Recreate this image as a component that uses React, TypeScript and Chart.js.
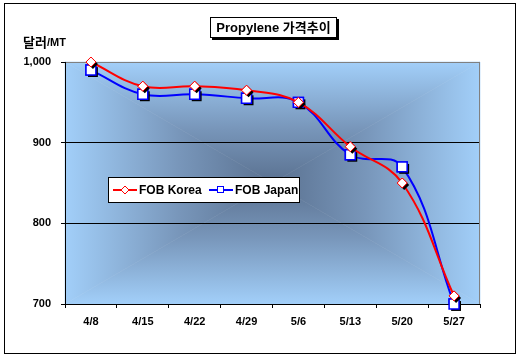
import React, { useEffect, useRef } from "react";
import { Chart, registerables } from "chart.js";

Chart.register(...registerables);

const categories = ["4/8", "4/15", "4/22", "4/29", "5/6", "5/13", "5/20", "5/27"];
const fobKorea = [1000, 970, 970, 965, 950, 895, 850, 710];
const fobJapan = [990, 960, 960, 955, 950, 885, 870, 700];
const seriesNames = ["FOB Korea", "FOB Japan"];
const chartTitle = "Propylene 가격추이";
const yUnitMain = "달러";
const yUnitSub = "/MT";
const yMin = 700;
const yMax = 1000;
const yStep = 100;

const LATIN = "Arial, 'Liberation Sans', 'Noto Sans CJK KR', sans-serif";
const KOREAN = "'Noto Sans CJK KR', Arial, sans-serif";

const decorPlugin = {
  id: "decor",
  beforeDraw(chart: any) {
    const ctx = chart.ctx;
    const { left, top, right, bottom } = chart.chartArea;
    ctx.save();
    ctx.fillStyle = "#ffffff";
    ctx.fillRect(0, 0, chart.width, chart.height);
    const cx = (left + right) / 2;
    const cy = (top + bottom) / 2;
    const tri = (pts: number[][], gx: number, gy: number) => {
      const g = ctx.createLinearGradient(cx, cy, gx, gy);
      g.addColorStop(0, "#5a7190");
      g.addColorStop(0.45, "#7896ba");
      g.addColorStop(1, "#a2cff9");
      ctx.fillStyle = g;
      ctx.beginPath();
      ctx.moveTo(pts[0][0], pts[0][1]);
      ctx.lineTo(pts[1][0], pts[1][1]);
      ctx.lineTo(cx, cy);
      ctx.closePath();
      ctx.fill();
      ctx.strokeStyle = g;
      ctx.lineWidth = 0.6;
      ctx.stroke();
    };
    tri([[left, top], [right, top]], cx, top);
    tri([[right, top], [right, bottom]], right, cy);
    tri([[right, bottom], [left, bottom]], cx, bottom);
    tri([[left, bottom], [left, top]], left, cy);
    ctx.restore();
  },
  afterDatasetDraw(chart: any, args: any) {
    const ctx = chart.ctx;
    const meta = args.meta;
    ctx.save();
    meta.data.forEach((pt: any) => {
      const o = pt.options;
      ctx.save();
      ctx.fillStyle = "#000000";
      ctx.beginPath();
      const x = pt.x + 2;
      const y = pt.y + 2;
      if (o.pointStyle === "rect") {
        const s = Math.SQRT1_2 * o.radius;
        ctx.rect(x - s, y - s, 2 * s, 2 * s);
      } else {
        const r = o.radius;
        ctx.moveTo(x, y - r);
        ctx.lineTo(x + r, y);
        ctx.lineTo(x, y + r);
        ctx.lineTo(x - r, y);
        ctx.closePath();
      }
      ctx.fill();
      ctx.restore();
      pt.draw(ctx, chart.chartArea);
    });
    ctx.restore();
  },
  afterDraw(chart: any) {
    const ctx = chart.ctx;
    const { top, right, bottom } = chart.chartArea;
    ctx.save();
    ctx.strokeStyle = "#808080";
    ctx.lineWidth = 1;
    ctx.beginPath();
    ctx.moveTo(Math.round(right) - 0.5, top);
    ctx.lineTo(Math.round(right) - 0.5, bottom);
    ctx.stroke();

    ctx.strokeStyle = "#000000";
    ctx.strokeRect(4.5, 3.5, 511, 350);

    const bx = 210, by = 17, bw = 127, bh = 21;
    ctx.fillStyle = "#000000";
    ctx.fillRect(bx + 2, by + 2, bw, bh);
    ctx.fillStyle = "#ffffff";
    ctx.fillRect(bx, by, bw, bh);
    ctx.strokeStyle = "#000000";
    ctx.strokeRect(bx + 0.5, by + 0.5, bw - 1, bh - 1);
    ctx.fillStyle = "#000000";
    ctx.textBaseline = "middle";
    ctx.textAlign = "center";
    ctx.font = `bold 13px ${LATIN}`;
    ctx.fillText(chartTitle, bx + bw / 2, by + bh / 2 + 1);

    ctx.textAlign = "left";
    ctx.font = `bold 13px ${KOREAN}`;
    ctx.fillText(yUnitMain, 23, 42);
    const w1 = ctx.measureText(yUnitMain).width;
    ctx.font = `bold 11px ${LATIN}`;
    ctx.fillText(yUnitSub, 23 + w1, 43);

    const lx = 108, ly = 177, lw = 192, lh = 26;
    ctx.fillStyle = "#ffffff";
    ctx.fillRect(lx, ly, lw, lh);
    ctx.strokeStyle = "#000000";
    ctx.strokeRect(lx + 0.5, ly + 0.5, lw - 1, lh - 1);
    const my = ly + lh / 2;
    ctx.strokeStyle = "#ff0000";
    ctx.lineWidth = 2;
    ctx.beginPath();
    ctx.moveTo(113, my);
    ctx.lineTo(137, my);
    ctx.stroke();
    ctx.fillStyle = "#ffffff";
    ctx.lineWidth = 1;
    ctx.beginPath();
    ctx.moveTo(125, my - 4);
    ctx.lineTo(129, my);
    ctx.lineTo(125, my + 4);
    ctx.lineTo(121, my);
    ctx.closePath();
    ctx.fill();
    ctx.stroke();
    ctx.fillStyle = "#000000";
    ctx.font = `bold 12px ${LATIN}`;
    ctx.fillText(seriesNames[0], 139, my + 1);
    ctx.strokeStyle = "#0000ff";
    ctx.lineWidth = 2;
    ctx.beginPath();
    ctx.moveTo(209, my);
    ctx.lineTo(233, my);
    ctx.stroke();
    ctx.fillStyle = "#ffffff";
    ctx.lineWidth = 1;
    ctx.fillRect(217, my - 3.5, 7, 7);
    ctx.strokeRect(217.5, my - 3.5, 6, 6);
    ctx.fillStyle = "#000000";
    ctx.fillText(seriesNames[1], 235, my + 1);
    ctx.restore();
  },
};

export default function App() {
  const ref = useRef<HTMLCanvasElement | null>(null);
  useEffect(() => {
    document.body.style.margin = "0";
    const canvas = ref.current;
    if (!canvas) return;
    const chart = new Chart(canvas, {
      type: "line",
      data: {
        labels: categories,
        datasets: [
          {
            label: seriesNames[0],
            data: fobKorea,
            borderColor: "#ff0000",
            borderWidth: 2,
            backgroundColor: "#ffffff",
            pointStyle: "rectRot",
            pointRadius: 5,
            pointBorderColor: "#ff0000",
            pointBackgroundColor: "#ffffff",
            pointBorderWidth: 1,
            tension: 0.4,
            fill: false,
          },
          {
            label: seriesNames[1],
            data: fobJapan,
            borderColor: "#0000ff",
            borderWidth: 2,
            backgroundColor: "#ffffff",
            pointStyle: "rect",
            pointRadius: 7,
            pointBorderColor: "#0000ff",
            pointBackgroundColor: "#ffffff",
            pointBorderWidth: 1.5,
            tension: 0.4,
            fill: false,
          },
        ],
      },
      options: {
        responsive: false,
        animation: false,
        devicePixelRatio: 1,
        events: [],
        layout: { padding: { left: 0, right: 40, top: 62, bottom: 0 } },
        plugins: {
          legend: { display: false },
          title: { display: false },
          tooltip: { enabled: false },
        },
        scales: {
          x: {
            type: "category",
            offset: true,
            afterFit: (s: any) => {
              s.height = 57;
            },
            border: { display: true, color: "#000000", width: 1 },
            grid: {
              offset: true,
              drawOnChartArea: false,
              drawTicks: true,
              tickLength: 4,
              tickColor: "#000000",
              color: "#000000",
            },
            ticks: {
              color: "#000000",
              font: { family: LATIN, size: 11, weight: "bold" },
              padding: 7,
              maxRotation: 0,
              autoSkip: false,
            },
          },
          y: {
            min: yMin,
            max: yMax,
            afterFit: (s: any) => {
              s.width = 65;
            },
            border: { display: true, color: "#000000", width: 1 },
            grid: {
              color: (c: any) => (c.tick && c.tick.value === yMax ? "#808080" : "#000000"),
              tickColor: "#000000",
              tickLength: 4,
              lineWidth: 1,
            },
            ticks: {
              stepSize: yStep,
              color: "#000000",
              padding: 10,
              font: { family: LATIN, size: 11, weight: "bold" },
              callback: (v: any) => Number(v).toLocaleString("en-US"),
            },
          },
        },
      },
      plugins: [decorPlugin],
    });
    return () => chart.destroy();
  }, []);
  return (
    <div style={{ position: "fixed", left: 0, top: 0, width: 520, height: 361 }}>
      <canvas ref={ref} width={520} height={361} style={{ width: 520, height: 361 }} />
    </div>
  );
}
